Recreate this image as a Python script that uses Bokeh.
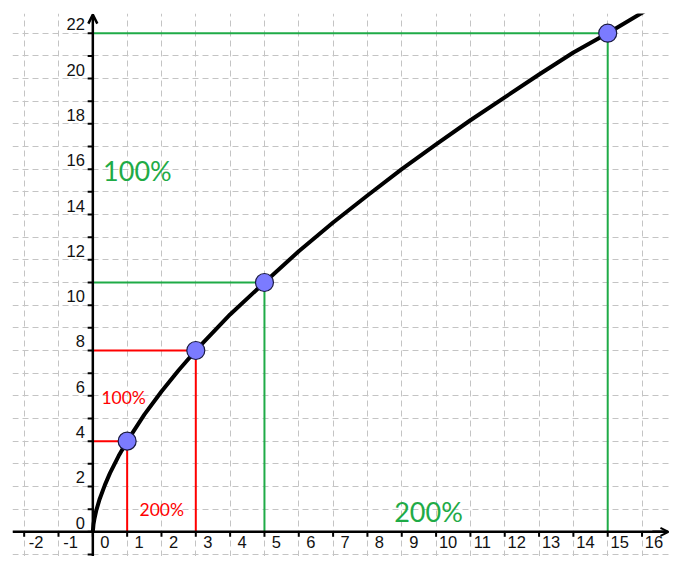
from bokeh.plotting import figure
from bokeh.models import Range1d, FixedTicker, Arrow, OpenHead
from bokeh.core.properties import value
from bokeh.embed import file_html
from bokeh.resources import INLINE

# ---- data ----
pt_x = [1, 3, 5, 15]
pt_y = [4, 8, 11, 22]
red_idx = [0, 1]
green_idx = [2, 3]

curve_x = [0, 0.02, 0.05, 0.1, 0.2, 0.35, 0.5, 0.75, 1, 1.5, 2, 2.5, 3, 4, 5,
           6, 7, 8, 9, 10, 11, 12, 13, 14, 15, 16, 16.6, 17.2]
curve_y = [0, 0.34, 0.60, 0.94, 1.45, 2.06, 2.59, 3.34, 4.0, 5.17, 6.19, 7.13, 8.0,
           9.59, 11.0, 12.38, 13.65, 14.84, 16.0, 17.10, 18.16, 19.17, 20.18, 21.15,
           22.0, 22.9, 23.5, 24.0]

x_ticks = list(range(-2, 17))
y_ticks = list(range(-1, 23))
y_label_ticks = list(range(0, 23, 2))

red_labels = ["100%", "200%"]
red_label_x = [0.25, 1.36]
red_label_y = [5.92, 0.97]
green_labels = ["100%", "200%"]
green_label_x = [0.30, 8.78]
green_label_y = [15.93, 0.89]

X0, X1 = -2.34, 16.80
Y0, Y1 = -1.09, 22.87

RED = "#ff0000"
GREEN = "#1fab47"
GRID = "#c4c4c4"

p = figure(width=669, height=556, x_range=Range1d(X0, X1), y_range=Range1d(Y0, Y1),
           output_backend="svg", toolbar_location=None,
           min_border_left=12, min_border_right=0, min_border_top=13, min_border_bottom=0)
p.xaxis.visible = False
p.yaxis.visible = False
p.outline_line_color = None
p.background_fill_color = "white"
p.border_fill_color = "white"

p.xgrid.ticker = FixedTicker(ticks=x_ticks)
p.ygrid.ticker = FixedTicker(ticks=y_ticks)
for g in (p.xgrid, p.ygrid):
    g.grid_line_color = GRID
    g.grid_line_dash = "6 4"
    g.grid_line_width = 1

# guide lines
def guides(idx, color):
    xs = [pt_x[i] for i in idx]
    ys = [pt_y[i] for i in idx]
    p.segment(x0=[0] * len(xs), y0=ys, x1=xs, y1=ys, line_color=color, line_width=2)
    p.segment(x0=xs, y0=[0] * len(xs), x1=xs, y1=ys, line_color=color, line_width=2)

guides(red_idx, RED)
guides(green_idx, GREEN)

# axes lines
p.segment(x0=[X0], y0=[0], x1=[X1 - 0.05], y1=[0], line_color="black", line_width=2.5)
p.add_layout(Arrow(end=OpenHead(size=9, line_width=2.5, line_color="black"),
                   x_start=0, y_start=Y0, x_end=0, y_end=22.82,
                   line_color="black", line_width=2.5))
p.add_layout(Arrow(end=OpenHead(size=8, line_width=2, line_color="black"),
                   x_start=16.3, y_start=0, x_end=X1 - 0.03, y_end=0,
                   line_color="black", line_width=2.5))

# ticks
p.segment(x0=x_ticks, y0=[0] * len(x_ticks), x1=x_ticks, y1=[-0.22] * len(x_ticks),
          line_color="black", line_width=2)
p.segment(x0=[-0.15] * len(y_ticks), y0=y_ticks, x1=[0] * len(y_ticks), y1=y_ticks,
          line_color="black", line_width=2)

# tick labels
p.text(x=x_ticks, y=[0] * len(x_ticks), text=[str(t) for t in x_ticks],
       text_font=value("Liberation Sans"), text_font_size="16.5px", text_color="#111111",
       text_align="center", text_baseline="top", x_offset=12, y_offset=4)
p.text(x=[0] * len(y_label_ticks), y=y_label_ticks, text=[str(t) for t in y_label_ticks],
       text_font=value("Liberation Sans"), text_font_size="16.5px", text_color="#111111",
       text_align="right", text_baseline="middle", x_offset=-8, y_offset=-9)

# curve
p.line(curve_x, curve_y, line_color="black", line_width=4)

# points
p.scatter(pt_x, pt_y, size=18, fill_color="#7b7bff", line_color="#1a1a40", line_width=1.2)

# percentage labels
p.text(x=red_label_x, y=red_label_y, text=red_labels, text_font=value("Lato"),
       text_font_size="17.5px", text_color=RED, text_align="left", text_baseline="middle")
p.text(x=green_label_x, y=green_label_y, text=green_labels, text_font=value("Lato"),
       text_font_size="27px", text_color=GREEN, text_align="left", text_baseline="middle")

open("out.html", "w").write(file_html(p, INLINE))
